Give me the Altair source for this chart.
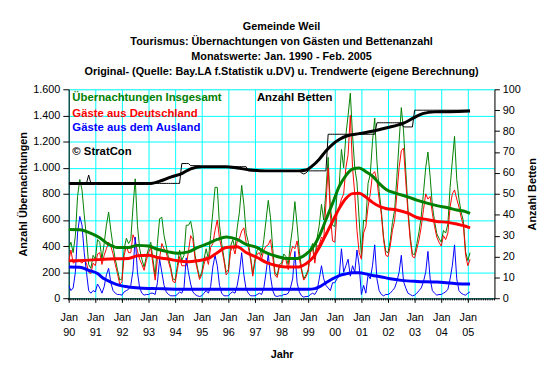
import altair as alt
import pandas as pd

# ---------------- data (monthly, Jan 1990 - Feb 2005) ----------------
gesamt = [
    380, 430, 350, 480, 780, 910, 830, 640, 470, 260, 230, 330,   # 1990
    300, 450, 430, 300, 420, 560, 660, 520, 400, 300, 220, 140,   # 1991
    150, 380, 460, 420, 450, 700, 915, 560, 380, 300, 240, 320,   # 1992
    380, 430, 300, 170, 420, 610, 620, 480, 400, 310, 240, 150,   # 1993
    140, 250, 370, 290, 330, 560, 560, 590, 500, 330, 240, 160,   # 1994
    200, 300, 380, 300, 480, 660, 850, 850, 560, 420, 310, 200,   # 1995
    220, 400, 450, 380, 540, 660, 865, 720, 500, 430, 320, 190,   # 1996
    300, 370, 390, 330, 450, 600, 750, 620, 380, 200, 175, 260,   # 1997
    270, 340, 320, 260, 420, 550, 740, 560, 360, 230, 150, 180,   # 1998
    220, 380, 420, 300, 460, 560, 720, 600, 820, 1080, 700, 560,  # 1999
    550, 800, 870, 1140, 1000, 1250, 1400, 1570, 1250, 1000, 890, 600,  # 2000
    330, 600, 590, 880, 950, 1200, 1380, 1050, 820, 670, 470, 360,  # 2001
    350, 440, 580, 680, 930, 1200, 1460, 1280, 980, 690, 480, 340,  # 2002
    335, 420, 510, 630, 810, 1000, 1120, 930, 710, 590, 495, 460,   # 2003
    430, 520, 500, 570, 850, 1050, 1240, 910, 760, 660, 590, 355,   # 2004
    290, 350,                                                       # 2005
]
deutschland = [
    280, 370, 270, 280, 280, 283, 270, 290, 270, 200, 190, 270,
    250, 340, 350, 260, 330, 380, 430, 400, 340, 260, 190, 110,
    125, 330, 400, 350, 350, 487, 445, 360, 300, 260, 215, 290,
    350, 390, 260, 140, 300, 310, 420, 380, 350, 280, 220, 130,
    120, 220, 320, 250, 250, 250, 360, 480, 450, 300, 220, 145,
    180, 260, 320, 260, 390, 420, 520, 600, 460, 380, 290, 180,
    200, 360, 400, 340, 440, 460, 515, 540, 430, 390, 300, 170,
    280, 340, 350, 300, 370, 400, 410, 450, 320, 180, 160, 240,
    250, 310, 290, 220, 340, 400, 380, 440, 310, 210, 140, 165,
    205, 350, 380, 270, 400, 410, 470, 450, 720, 1000, 640, 440,
    430, 650, 700, 760, 800, 1000, 1100, 1400, 1000, 800, 520, 350,
    300, 500, 550, 700, 800, 950, 970, 900, 760, 640, 450, 330,
    320, 400, 520, 600, 800, 1000, 1130, 1150, 900, 650, 450, 320,
    310, 380, 450, 550, 680, 800, 760, 780, 650, 550, 470, 430,
    400, 480, 450, 500, 700, 800, 830, 760, 700, 620, 560, 330,
    250, 300,
]
ausland = [
    100, 60, 80, 200, 500, 627, 560, 350, 200, 60, 40, 60,
    50, 110, 80, 40, 90, 180, 230, 120, 60, 40, 30, 30,
    25, 50, 60, 70, 100, 213, 470, 200, 80, 40, 25, 30,
    30, 40, 40, 30, 120, 300, 200, 100, 50, 30, 20, 20,
    20, 30, 50, 40, 80, 310, 200, 110, 50, 30, 20, 15,
    20, 40, 60, 40, 90, 240, 330, 250, 100, 40, 20, 20,
    20, 40, 50, 40, 100, 200, 350, 180, 70, 40, 20, 20,
    20, 30, 40, 30, 80, 200, 340, 170, 60, 20, 15, 20,
    20, 30, 30, 40, 80, 150, 360, 120, 50, 20, 10, 15,
    15, 30, 40, 30, 60, 150, 250, 150, 100, 80, 60, 120,
    120, 150, 170, 380, 200, 250, 300, 170, 250, 200, 370, 250,
    30, 100, 40, 180, 150, 250, 410, 150, 60, 30, 20, 30,
    30, 40, 60, 80, 130, 200, 330, 130, 80, 40, 30, 20,
    25, 40, 60, 80, 130, 200, 360, 150, 60, 40, 25, 30,
    30, 40, 50, 70, 150, 250, 410, 150, 60, 40, 30, 25,
    40, 50,
]
betten = [
    55, 55, 55, 55, 55, 55, 55, 55, 55, 59, 55, 55,
    55, 55, 55, 55, 55, 55, 55, 55, 55, 55, 55, 55,
    55, 55, 55, 55, 55, 55, 55, 55, 55, 55, 55, 55,
    55, 55, 55, 55, 55, 55, 55, 55, 55, 55, 55, 55,
    55, 55, 55, 64.5, 64.5, 64.5, 64.5, 63.5, 63.5, 63.5, 63.5, 63.5,
    63, 63, 63, 63, 63, 63, 63, 63, 63, 63, 63, 63,
    63, 63, 63, 63, 63, 63, 63, 63, 63, 61, 61, 61,
    61, 61, 61, 61, 61, 61, 61, 61, 61, 61, 61, 61,
    61, 61, 61, 61, 61, 61, 61, 61, 61, 60, 59.5, 60,
    61, 61, 61, 61, 61, 61, 61, 61, 61, 78.5, 78.5, 78.5,
    78.5, 78.5, 78.5, 78.5, 78.5, 78.5, 78.5, 78.5, 78.5, 78.5, 78.5, 78.5,
    78.5, 78.5, 78.5, 78.5, 78.5, 78.5, 78.5, 84, 84, 84, 84, 84,
    84, 84, 84, 84, 84, 84, 84, 82, 82, 82, 82, 82,
    90, 90, 90, 90, 90, 90, 90, 90, 90, 90, 90, 90,
    90, 90, 90, 90, 90, 90, 90, 90, 90, 90, 90, 90,
    90, 90,
]

# trend curves (read at anchor months)
trend_ges_m = [0, 5, 9, 14, 18, 22, 27, 31, 36, 40, 45, 49, 54, 58, 63, 67, 71, 76, 80, 85,
               89, 94, 98, 103, 107, 110, 113, 116, 119, 122, 125, 128, 131, 134, 137, 140,
               143, 148, 153, 157, 162, 166, 171, 175, 179, 181]
trend_ges_v = [528, 526, 506, 464, 414, 389, 389, 406, 401, 376, 356, 346, 356, 389, 421, 451,
               470, 451, 414, 389, 351, 321, 306, 306, 338, 389, 476, 602, 727, 857, 940, 990,
               998, 970, 935, 880, 835, 802, 777, 752, 727, 710, 694, 677, 664, 650]
trend_de_m = [0, 9, 18, 27, 31, 36, 40, 45, 49, 54, 58, 63, 67, 71, 76, 80, 85, 89, 94, 98,
              103, 107, 110, 113, 116, 119, 122, 125, 128, 131, 134, 137, 140, 143, 148, 153,
              157, 162, 166, 171, 175, 179, 181]
trend_de_v = [288, 293, 301, 306, 326, 331, 313, 301, 288, 281, 288, 306, 350, 390, 395, 351,
              313, 276, 250, 240, 240, 266, 310, 389, 489, 589, 689, 765, 802, 805, 775, 735,
              705, 688, 677, 652, 619, 602, 589, 582, 569, 552, 540]
trend_aus_m = [0, 5, 9, 13, 16, 19, 23, 27, 32, 40, 50, 108, 111, 113, 116, 119, 122, 125, 128,
               131, 134, 137, 140, 145, 150, 157, 166, 175, 181]
trend_aus_v = [240, 238, 215, 190, 150, 125, 100, 88, 80, 75, 70, 70, 75, 88, 120, 150, 175, 188,
               196, 196, 188, 175, 168, 150, 138, 130, 125, 113, 110]
trend_bet_m = [0, 37, 42, 46, 51, 55, 60, 66, 71, 76, 82, 89, 104, 107, 110, 113, 116, 119, 122,
               126, 131, 138, 143, 151, 156, 160, 165, 172, 181]
trend_bet_v = [55, 55, 56.4, 58, 59.7, 62, 63, 63, 63, 62.4, 61.4, 61, 61, 61.4, 63.5, 66.6, 70.5,
               73.7, 76, 77.9, 78.8, 80.2, 81.5, 83.8, 86.6, 88.5, 89.2, 89.3, 89.6]

left_ticks = [0, 200, 400, 600, 800, 1000, 1200, 1400, 1600]
right_ticks = [0, 10, 20, 30, 40, 50, 60, 70, 80, 90, 100]
jan_ticks = list(range(0, 181, 12))
minor_ticks = list(range(0, 193))

title_lines = [
    "Gemeinde Weil",
    "Tourismus: Übernachtungen von Gästen und Bettenanzahl",
    "Monatswerte: Jan. 1990 - Feb. 2005",
    "Original- (Quelle: Bay.LA f.Statistik u.DV) u. Trendwerte (eigene Berechnung)",
]

# ---------------- chart ----------------
W, H = 432, 212.2
FONT = "Liberation Sans, Arial, sans-serif"
GREEN, RED, BLUE = "#008000", "#FF0000", "#0000FF"

df = pd.DataFrame({"m": list(range(len(gesamt))), "gesamt": gesamt,
                   "deutschland": deutschland, "ausland": ausland, "betten": betten})

xscale = alt.Scale(domain=[0, 192], nice=False, zero=False)
yscale = alt.Scale(domain=[0, 1600], nice=False)
y2scale = alt.Scale(domain=[0, 100], nice=False)

xaxis = alt.Axis(
    values=jan_ticks, grid=True, gridColor="#00FFFF", gridOpacity=1, gridWidth=1,
    labelExpr="['Jan', timeFormat(datetime(1990 + datum.value / 12, 0, 1), '%y')]",
    labelFont=FONT, labelFontSize=11, labelColor="black", labelLineHeight=15.5,
    labelBaseline="top", labelPadding=9, labelAngle=0, labelFlush=False,
    tickSize=4, tickColor="black", domainColor="black",
    title="Jahr", titleFont=FONT, titleFontSize=11, titleFontWeight="bold",
    titleColor="black", titleX=W / 2, titleY=57, titleBaseline="middle", titleAlign="center",
)
yaxis = alt.Axis(
    values=left_ticks, grid=True, gridColor="#00FFFF", gridOpacity=1, gridWidth=1,
    labelExpr="replace(format(datum.value, ','), ',', '.')",
    labelFont=FONT, labelFontSize=11, labelColor="black", labelPadding=3,
    tickSize=6, tickColor="black", domainColor="black",
    title="Anzahl Übernachtungen", titleFont=FONT, titleFontSize=11, titleFontWeight="bold",
    titleColor="black", titleX=-45.6, titleY=H / 2, titleAngle=270,
    titleBaseline="middle", titleAlign="center",
)
y2axis = alt.Axis(
    orient="right", values=right_ticks, grid=False,
    labelFont=FONT, labelFontSize=11, labelColor="black", labelPadding=3,
    tickSize=5, tickColor="black", domainColor="black",
    title="Anzahl Betten", titleFont=FONT, titleFontSize=11, titleFontWeight="bold",
    titleColor="black", titleX=38.2, titleY=H / 2, titleAngle=270,
    titleBaseline="middle", titleAlign="center",
)

X = alt.X("m:Q", scale=xscale, axis=xaxis)


def thin(field, color):
    return alt.Chart(df).mark_line(color=color, strokeWidth=1, clip=True).encode(
        x=X, y=alt.Y(f"{field}:Q", scale=yscale, axis=yaxis))


def trend(ms, vs, color, width=3):
    d = pd.DataFrame({"m": ms, "v": vs})
    return alt.Chart(d).mark_line(color=color, strokeWidth=width, interpolate="monotone",
                                  clip=True).encode(
        x=X, y=alt.Y("v:Q", scale=yscale, axis=yaxis))


def label(text, color, px, py):
    return alt.Chart(pd.DataFrame({"t": [text]})).mark_text(
        align="left", baseline="middle", font=FONT, fontSize=11.5, fontWeight="bold",
        color=color).encode(x=alt.value(px), y=alt.value(py), text="t:N")


minor = alt.Chart(pd.DataFrame({"m": minor_ticks})).mark_rule(
    color="black", strokeWidth=1).encode(x=X, y=alt.value(H), y2=alt.value(H + 2))

left = alt.layer(
    thin("gesamt", GREEN),
    thin("deutschland", RED),
    thin("ausland", BLUE),
    trend(trend_aus_m, trend_aus_v, BLUE),
    trend(trend_de_m, trend_de_v, RED),
    trend(trend_ges_m, trend_ges_v, GREEN),
    minor,
    label("Übernachtungen Insgesamt", GREEN, 3.7, 9.2),
    label("Gäste aus Deutschland", RED, 3.7, 24.8),
    label("Gäste aus dem Ausland", BLUE, 3.7, 39.2),
    label("© StratCon", "black", 3.7, 63.5),
    label("Anzahl Betten", "black", 191, 9.2),
)

bet_tr = pd.DataFrame({"m": trend_bet_m, "v": trend_bet_v})
right = alt.layer(
    alt.Chart(df).mark_line(color="black", strokeWidth=1, clip=True).encode(
        x=X, y=alt.Y("betten:Q", scale=y2scale, axis=y2axis)),
    alt.Chart(bet_tr).mark_line(color="black", strokeWidth=3, interpolate="monotone",
                                clip=True).encode(
        x=X, y=alt.Y("v:Q", scale=y2scale, axis=y2axis)),
)

chart = alt.layer(left, right).resolve_scale(y="independent").properties(
    width=W, height=H,
    autosize=alt.AutoSizeParams(type="none"),
    padding={"left": 61.6, "top": 79.8, "right": 58.4, "bottom": 74},
    title=alt.TitleParams(text=title_lines, font=FONT, fontSize=11, fontWeight="bold",
                          color="black", anchor="middle", lineHeight=15, offset=7),
).configure_view(fill="#C0C0C0", stroke="transparent").configure(background="white")

chart.save("out.html", embed_options={"renderer": "svg", "actions": False})
